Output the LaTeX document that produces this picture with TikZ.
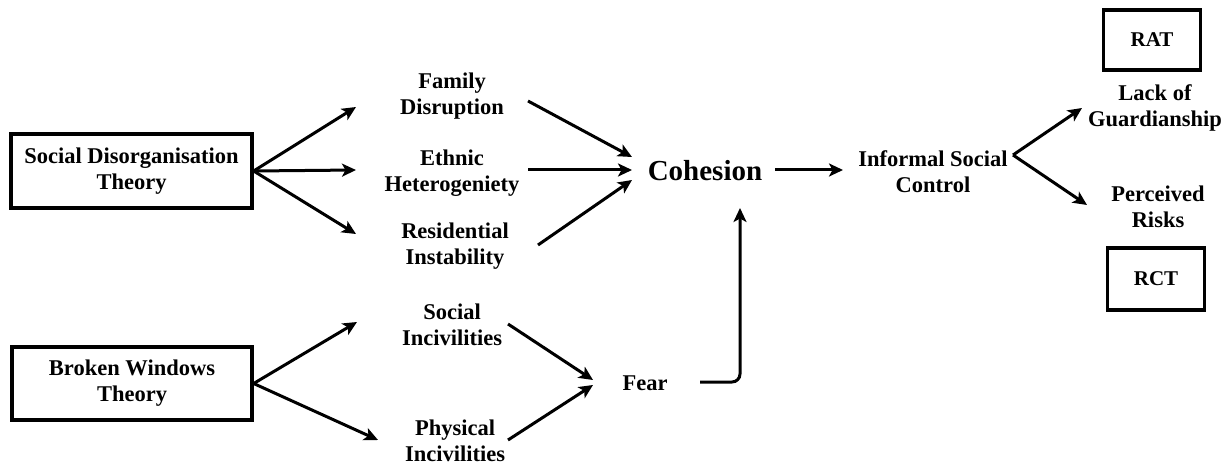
\documentclass[tikz,border=0pt]{standalone}
\usepackage{fontspec}
\setmainfont{Liberation Serif}
\usetikzlibrary{arrows.meta,calc}
\begin{document}
\begin{tikzpicture}[x=1pt,y=-1pt,
  lbl/.style={font=\fontsize{22.5}{26}\selectfont\bfseries, align=center, inner sep=0pt},
  theory/.style={draw, line width=3.3pt, font=\fontsize{22.5}{26}\selectfont\bfseries, align=center, inner sep=0pt},
  arr/.style={line width=3pt, -{Stealth[length=14pt,width=13pt,inset=3.5pt]}}]
\useasboundingbox (0,0) rectangle (1228,465);
% nodes
\node[theory, minimum width=241pt, minimum height=74pt] (sdt) at (131.5,171) {Social Disorganisation\\Theory};
\node[theory, minimum width=240pt, minimum height=73pt] (bwt) at (132,383.5) {Broken Windows\\Theory};
\node[lbl] (fd) at (452,96) {Family\\Disruption};
\node[lbl] (eh) at (452,173) {Ethnic\\Heterogeniety};
\node[lbl] (ri) at (455,246) {Residential\\Instability};
\node[lbl] (si) at (452,325) {Social\\Incivilities};
\node[lbl] (pi) at (455,441) {Physical\\Incivilities};
\node[lbl, font=\fontsize{29}{33}\selectfont\bfseries] (coh) at (705,171) {Cohesion};
\node[lbl] (fear) at (645,383) {Fear};
\node[lbl] (isc) at (933,172) {Informal Social\\Control};
\node[lbl] (lg) at (1155,108) {Lack of\\Guardianship};
\node[lbl] (pr) at (1158,207) {Perceived\\Risks};
\node[theory, font=\fontsize{21}{25}\selectfont\bfseries, minimum width=97pt, minimum height=60pt] (rat) at (1152,40) {RAT};
\node[theory, font=\fontsize{21}{25}\selectfont\bfseries, minimum width=97pt, minimum height=62pt] (rct) at (1156,279) {RCT};
% connectors
\draw[arr] (sdt.east) -- ($(fd.center)+(-96,11)$);
\draw[arr] (sdt.east) -- ($(eh.center)+(-96,-3)$);
\draw[arr] (sdt.east) -- ($(ri.center)+(-99,-12)$);
\draw[arr] (bwt.east) -- ($(si.center)+(-95,-3)$);
\draw[arr] (bwt.east) -- ($(pi.center)+(-77,-1)$);
\draw[arr] ($(fd.center)+(76,5)$) -- ($(coh.center)+(-73,-14)$);
\draw[arr] ($(eh.center)+(76,-3)$) -- ($(coh.center)+(-73,-1)$);
\draw[arr] ($(ri.center)+(83,-1)$) -- ($(coh.center)+(-73,9)$);
\draw[arr] ($(si.center)+(56,-1)$) -- ($(fear.center)+(-52,-3)$);
\draw[arr] ($(pi.center)+(53,-1)$) -- ($(fear.center)+(-52,2)$);
\draw[arr, rounded corners=8pt] ($(fear.center)+(55,-1)$) -| ($(coh.center)+(35,37)$);
\draw[arr] ($(coh.center)+(70,-1)$) -- ($(isc.center)+(-90,-2)$);
\draw[arr] ($(isc.center)+(80,-17)$) -- ($(lg.center)+(-73,0)$);
\draw[arr] ($(isc.center)+(80,-17)$) -- ($(pr.center)+(-71,-2)$);
\end{tikzpicture}
\end{document}
